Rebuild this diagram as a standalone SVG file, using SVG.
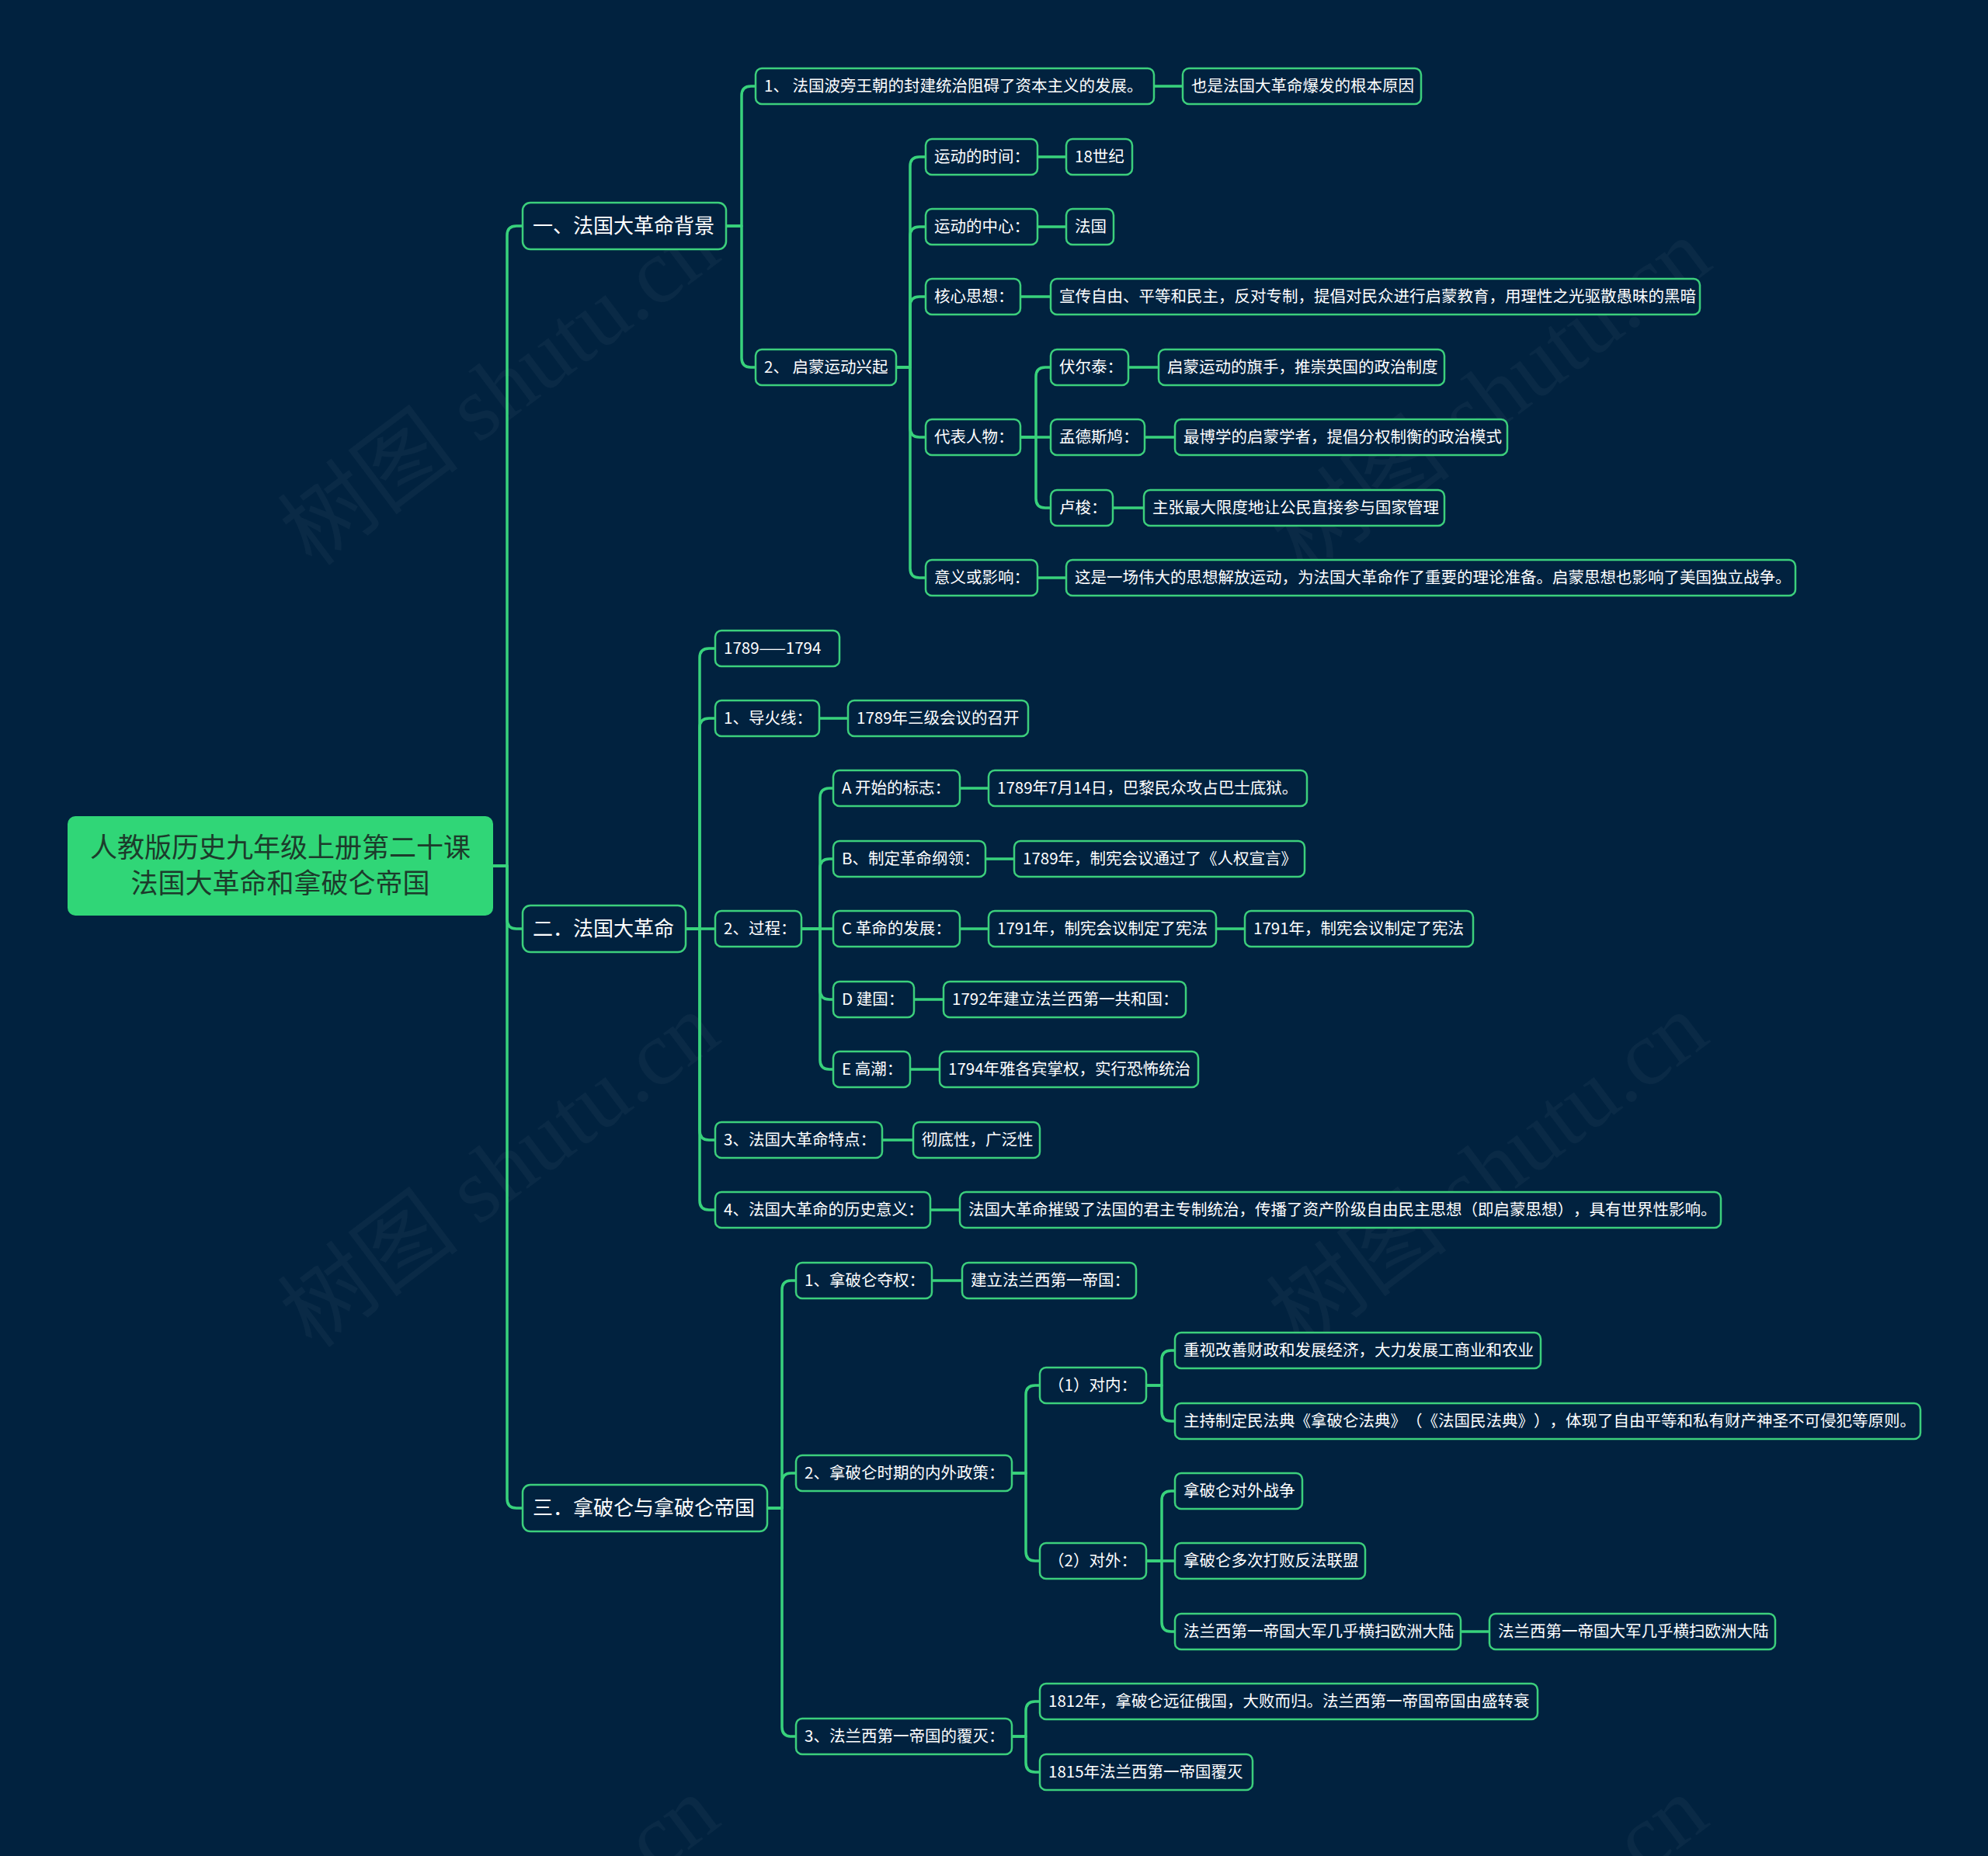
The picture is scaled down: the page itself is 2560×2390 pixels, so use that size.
<svg xmlns="http://www.w3.org/2000/svg" width="2560" height="2390" viewBox="0 0 2560 2390">
<style>
.bg{fill:#01223f}
.wm{font-family:"Liberation Serif","Noto Sans CJK SC",serif;font-size:118px;fill:#ffffff;fill-opacity:0.04}
.c{fill:none;stroke:#38d27c;stroke-width:3.5;stroke-linecap:round;stroke-linejoin:round}
.n rect{fill:#01223f;stroke:#3ccf7c;stroke-width:2.5}
.n text{font-family:"Noto Sans CJK SC","Noto Sans",sans-serif;font-size:20.5px;fill:#ffffff;text-spacing-trim:space-all;font-feature-settings:"chws" 0,"halt" 0}
.l1 rect{fill:#01223f;stroke:#3ccf7c;stroke-width:2.5}
.l1 text{font-family:"Noto Sans CJK SC","Noto Sans",sans-serif;font-size:26px;fill:#ffffff;text-spacing-trim:space-all}
.root rect{fill:#30d677}
.root text{font-family:"Noto Sans CJK SC","Noto Sans",sans-serif;font-size:35px;fill:#1c3b2b;text-anchor:middle}
</style>
<rect class="bg" x="0" y="0" width="2560" height="2390"/>
<g id="watermarks">
<text class="wm" x="645" y="540" text-anchor="middle" transform="rotate(-37 645 503)">树图 shutu.cn</text>
<text class="wm" x="1922" y="550" text-anchor="middle" transform="rotate(-37 1922 513)">树图 shutu.cn</text>
<text class="wm" x="645" y="1547" text-anchor="middle" transform="rotate(-37 645 1510)">树图 shutu.cn</text>
<text class="wm" x="1918" y="1547" text-anchor="middle" transform="rotate(-37 1918 1510)">树图 shutu.cn</text>
<text class="wm" x="645" y="2555" text-anchor="middle" transform="rotate(-37 645 2518)">树图 shutu.cn</text>
<text class="wm" x="1918" y="2555" text-anchor="middle" transform="rotate(-37 1918 2518)">树图 shutu.cn</text>
</g>
<g id="connectors" class="c">
<path d="M635 1115 H653 V303 Q653 291 665 291 H673"/>
<path d="M635 1115 H653 V1184 Q653 1196 665 1196 H673"/>
<path d="M635 1115 H653 V1930 Q653 1942 665 1942 H673"/>
<path d="M935 291 H955 V123 Q955 111 967 111 H973"/>
<path d="M935 291 H955 V461 Q955 473 967 473 H973"/>
<path d="M1486 111 H1523"/>
<path d="M1154 473 H1172 V214 Q1172 202 1184 202 H1192"/>
<path d="M1154 473 H1172 V304 Q1172 292 1184 292 H1192"/>
<path d="M1154 473 H1172 V394 Q1172 382 1184 382 H1192"/>
<path d="M1154 473 H1172 V551 Q1172 563 1184 563 H1192"/>
<path d="M1154 473 H1172 V732 Q1172 744 1184 744 H1192"/>
<path d="M1336 202 H1373"/>
<path d="M1336 292 H1373"/>
<path d="M1314 382 H1353"/>
<path d="M1314 563 H1334 V485 Q1334 473 1346 473 H1353"/>
<path d="M1314 563 H1353"/>
<path d="M1314 563 H1334 V642 Q1334 654 1346 654 H1353"/>
<path d="M1453 473 H1492"/>
<path d="M1474 563 H1513"/>
<path d="M1433 654 H1473"/>
<path d="M1336 744 H1373"/>
<path d="M883 1196 H901 V847 Q901 835 913 835 H921"/>
<path d="M883 1196 H901 V937 Q901 925 913 925 H921"/>
<path d="M883 1196 H921"/>
<path d="M883 1196 H901 V1456 Q901 1468 913 1468 H921"/>
<path d="M883 1196 H901 V1546 Q901 1558 913 1558 H921"/>
<path d="M1055 925 H1092"/>
<path d="M1032 1196 H1056 V1027 Q1056 1015 1068 1015 H1073"/>
<path d="M1032 1196 H1056 V1118 Q1056 1106 1068 1106 H1073"/>
<path d="M1032 1196 H1073"/>
<path d="M1032 1196 H1056 V1275 Q1056 1287 1068 1287 H1073"/>
<path d="M1032 1196 H1056 V1365 Q1056 1377 1068 1377 H1073"/>
<path d="M1236 1015 H1273"/>
<path d="M1269 1106 H1306"/>
<path d="M1236 1196 H1273"/>
<path d="M1566 1196 H1603"/>
<path d="M1177 1287 H1215"/>
<path d="M1172 1377 H1210"/>
<path d="M1136 1468 H1176"/>
<path d="M1198 1558 H1236"/>
<path d="M988 1942 H1007 V1661 Q1007 1649 1019 1649 H1025"/>
<path d="M988 1942 H1007 V1909 Q1007 1897 1019 1897 H1025"/>
<path d="M988 1942 H1007 V2224 Q1007 2236 1019 2236 H1025"/>
<path d="M1200 1649 H1239"/>
<path d="M1303 1897 H1321 V1796 Q1321 1784 1333 1784 H1339"/>
<path d="M1303 1897 H1321 V1998 Q1321 2010 1333 2010 H1339"/>
<path d="M1476 1784 H1496 V1751 Q1496 1739 1508 1739 H1513"/>
<path d="M1476 1784 H1496 V1818 Q1496 1830 1508 1830 H1513"/>
<path d="M1476 2010 H1496 V1932 Q1496 1920 1508 1920 H1513"/>
<path d="M1476 2010 H1513"/>
<path d="M1476 2010 H1496 V2089 Q1496 2101 1508 2101 H1513"/>
<path d="M1881 2101 H1918"/>
<path d="M1303 2236 H1321 V2203 Q1321 2191 1333 2191 H1339"/>
<path d="M1303 2236 H1321 V2270 Q1321 2282 1333 2282 H1339"/>
</g>
<g id="root" class="root">
<rect x="87" y="1051" width="548" height="128" rx="10"/>
<text x="361" y="1104">人教版历史九年级上册第二十课</text>
<text x="361" y="1150">法国大革命和拿破仑帝国</text>
</g>
<g id="b1" class="l1"><rect x="673" y="261" width="262" height="60" rx="10"/><text x="686" y="300">一、法国大革命背景</text></g>
<g id="b2" class="l1"><rect x="673" y="1166" width="210" height="60" rx="10"/><text x="686" y="1205">二．法国大革命</text></g>
<g id="b3" class="l1"><rect x="673" y="1912" width="315" height="60" rx="10"/><text x="686" y="1951">三．拿破仑与拿破仑帝国</text></g>

<g id="n1-1" class="n"><rect x="973" y="88" width="513" height="46" rx="8"/><text x="984" y="118">1、 法国波旁王朝的封建统治阻碍了资本主义的发展。</text></g>
<g id="n1-1a" class="n"><rect x="1523" y="88" width="307" height="46" rx="8"/><text x="1534" y="118">也是法国大革命爆发的根本原因</text></g>
<g id="n1-2" class="n"><rect x="973" y="450" width="181" height="46" rx="8"/><text x="984" y="480">2、 启蒙运动兴起</text></g>
<g id="n1-2-1" class="n"><rect x="1192" y="179" width="144" height="46" rx="8"/><text x="1203" y="209">运动的时间：</text></g>
<g id="n1-2-1a" class="n"><rect x="1373" y="179" width="85" height="46" rx="8"/><text x="1384" y="209">18世纪</text></g>
<g id="n1-2-2" class="n"><rect x="1192" y="269" width="144" height="46" rx="8"/><text x="1203" y="299">运动的中心：</text></g>
<g id="n1-2-2a" class="n"><rect x="1373" y="269" width="61" height="46" rx="8"/><text x="1384" y="299">法国</text></g>
<g id="n1-2-3" class="n"><rect x="1192" y="359" width="122" height="46" rx="8"/><text x="1203" y="389">核心思想：</text></g>
<g id="n1-2-3a" class="n"><rect x="1353" y="359" width="836" height="46" rx="8"/><text x="1364" y="389">宣传自由、平等和民主，反对专制，提倡对民众进行启蒙教育，用理性之光驱散愚昧的黑暗</text></g>
<g id="n1-2-4" class="n"><rect x="1192" y="540" width="122" height="46" rx="8"/><text x="1203" y="570">代表人物：</text></g>
<g id="n1-2-4-1" class="n"><rect x="1353" y="450" width="100" height="46" rx="8"/><text x="1364" y="480">伏尔泰：</text></g>
<g id="n1-2-4-1a" class="n"><rect x="1492" y="450" width="368" height="46" rx="8"/><text x="1503" y="480">启蒙运动的旗手，推崇英国的政治制度</text></g>
<g id="n1-2-4-2" class="n"><rect x="1353" y="540" width="121" height="46" rx="8"/><text x="1364" y="570">孟德斯鸠：</text></g>
<g id="n1-2-4-2a" class="n"><rect x="1513" y="540" width="428" height="46" rx="8"/><text x="1524" y="570">最博学的启蒙学者，提倡分权制衡的政治模式</text></g>
<g id="n1-2-4-3" class="n"><rect x="1353" y="631" width="80" height="46" rx="8"/><text x="1364" y="661">卢梭：</text></g>
<g id="n1-2-4-3a" class="n"><rect x="1473" y="631" width="387" height="46" rx="8"/><text x="1484" y="661">主张最大限度地让公民直接参与国家管理</text></g>
<g id="n1-2-5" class="n"><rect x="1192" y="721" width="144" height="46" rx="8"/><text x="1203" y="751">意义或影响：</text></g>
<g id="n1-2-5a" class="n"><rect x="1373" y="721" width="939" height="46" rx="8"/><text x="1384" y="751">这是一场伟大的思想解放运动，为法国大革命作了重要的理论准备。启蒙思想也影响了美国独立战争。</text></g>

<g id="n2-0" class="n"><rect x="921" y="812" width="160" height="46" rx="8"/><text x="932" y="842">1789——1794</text></g>
<g id="n2-1" class="n"><rect x="921" y="902" width="134" height="46" rx="8"/><text x="932" y="932">1、导火线：</text></g>
<g id="n2-1a" class="n"><rect x="1092" y="902" width="232" height="46" rx="8"/><text x="1103" y="932">1789年三级会议的召开</text></g>
<g id="n2-2" class="n"><rect x="921" y="1173" width="111" height="46" rx="8"/><text x="932" y="1203">2、过程：</text></g>
<g id="n2-2-A" class="n"><rect x="1073" y="992" width="163" height="46" rx="8"/><text x="1084" y="1022">A 开始的标志：</text></g>
<g id="n2-2-Aa" class="n"><rect x="1273" y="992" width="410" height="46" rx="8"/><text x="1284" y="1022">1789年7月14日，巴黎民众攻占巴士底狱。</text></g>
<g id="n2-2-B" class="n"><rect x="1073" y="1083" width="196" height="46" rx="8"/><text x="1084" y="1113">B、制定革命纲领：</text></g>
<g id="n2-2-Ba" class="n"><rect x="1306" y="1083" width="374" height="46" rx="8"/><text x="1317" y="1113">1789年，制宪会议通过了《人权宣言》</text></g>
<g id="n2-2-C" class="n"><rect x="1073" y="1173" width="163" height="46" rx="8"/><text x="1084" y="1203">C 革命的发展：</text></g>
<g id="n2-2-Ca" class="n"><rect x="1273" y="1173" width="293" height="46" rx="8"/><text x="1284" y="1203">1791年，制宪会议制定了宪法</text></g>
<g id="n2-2-Cb" class="n"><rect x="1603" y="1173" width="294" height="46" rx="8"/><text x="1614" y="1203">1791年，制宪会议制定了宪法</text></g>
<g id="n2-2-D" class="n"><rect x="1073" y="1264" width="104" height="46" rx="8"/><text x="1084" y="1294">D 建国：</text></g>
<g id="n2-2-Da" class="n"><rect x="1215" y="1264" width="312" height="46" rx="8"/><text x="1226" y="1294">1792年建立法兰西第一共和国：</text></g>
<g id="n2-2-E" class="n"><rect x="1073" y="1354" width="99" height="46" rx="8"/><text x="1084" y="1384">E 高潮：</text></g>
<g id="n2-2-Ea" class="n"><rect x="1210" y="1354" width="333" height="46" rx="8"/><text x="1221" y="1384">1794年雅各宾掌权，实行恐怖统治</text></g>
<g id="n2-3" class="n"><rect x="921" y="1445" width="215" height="46" rx="8"/><text x="932" y="1475">3、法国大革命特点：</text></g>
<g id="n2-3a" class="n"><rect x="1176" y="1445" width="163" height="46" rx="8"/><text x="1187" y="1475">彻底性，广泛性</text></g>
<g id="n2-4" class="n"><rect x="921" y="1535" width="277" height="46" rx="8"/><text x="932" y="1565">4、法国大革命的历史意义：</text></g>
<g id="n2-4a" class="n"><rect x="1236" y="1535" width="980" height="46" rx="8"/><text x="1247" y="1565">法国大革命摧毁了法国的君主专制统治，传播了资产阶级自由民主思想（即启蒙思想），具有世界性影响。</text></g>

<g id="n3-1" class="n"><rect x="1025" y="1626" width="175" height="46" rx="8"/><text x="1036" y="1656">1、拿破仑夺权：</text></g>
<g id="n3-1a" class="n"><rect x="1239" y="1626" width="224" height="46" rx="8"/><text x="1250" y="1656">建立法兰西第一帝国：</text></g>
<g id="n3-2" class="n"><rect x="1025" y="1874" width="278" height="46" rx="8"/><text x="1036" y="1904">2、拿破仑时期的内外政策：</text></g>
<g id="n3-2-1" class="n"><rect x="1339" y="1761" width="137" height="46" rx="8"/><text x="1350" y="1791">（1）对内：</text></g>
<g id="n3-2-1a" class="n"><rect x="1513" y="1716" width="471" height="46" rx="8"/><text x="1524" y="1746">重视改善财政和发展经济，大力发展工商业和农业</text></g>
<g id="n3-2-1b" class="n"><rect x="1513" y="1807" width="960" height="46" rx="8"/><text x="1524" y="1837">主持制定民法典《拿破仑法典》（《法国民法典》），体现了自由平等和私有财产神圣不可侵犯等原则。</text></g>
<g id="n3-2-2" class="n"><rect x="1339" y="1987" width="137" height="46" rx="8"/><text x="1350" y="2017">（2）对外：</text></g>
<g id="n3-2-2a" class="n"><rect x="1513" y="1897" width="164" height="46" rx="8"/><text x="1524" y="1927">拿破仑对外战争</text></g>
<g id="n3-2-2b" class="n"><rect x="1513" y="1987" width="245" height="46" rx="8"/><text x="1524" y="2017">拿破仑多次打败反法联盟</text></g>
<g id="n3-2-2c" class="n"><rect x="1513" y="2078" width="368" height="46" rx="8"/><text x="1524" y="2108">法兰西第一帝国大军几乎横扫欧洲大陆</text></g>
<g id="n3-2-2d" class="n"><rect x="1918" y="2078" width="368" height="46" rx="8"/><text x="1929" y="2108">法兰西第一帝国大军几乎横扫欧洲大陆</text></g>
<g id="n3-3" class="n"><rect x="1025" y="2213" width="278" height="46" rx="8"/><text x="1036" y="2243">3、法兰西第一帝国的覆灭：</text></g>
<g id="n3-3a" class="n"><rect x="1339" y="2168" width="641" height="46" rx="8"/><text x="1350" y="2198">1812年，拿破仑远征俄国，大败而归。法兰西第一帝国帝国由盛转衰</text></g>
<g id="n3-3b" class="n"><rect x="1339" y="2259" width="274" height="46" rx="8"/><text x="1350" y="2289">1815年法兰西第一帝国覆灭</text></g>
</svg>
